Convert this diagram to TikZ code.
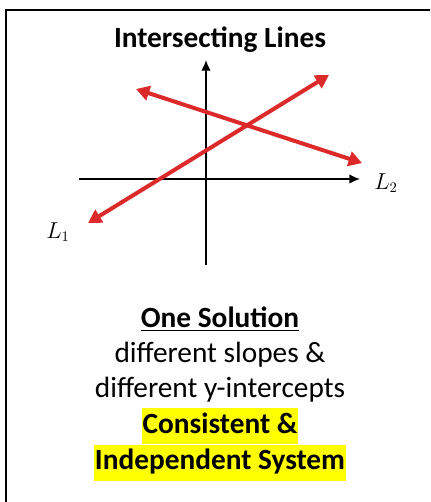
\documentclass[tikz,border=0pt]{standalone}
\usepackage{fontspec}
\setmainfont{Carlito}
\usepackage{tikz}
\usetikzlibrary{arrows.meta,positioning}
\definecolor{lineRed}{HTML}{DC2A2A}
\definecolor{markYellow}{HTML}{FFFF00}
\begin{document}
\begin{tikzpicture}[x=0.75pt,y=-0.75pt,
    font=\fontsize{22}{26}\selectfont,
    axis/.style={-{Latex[length=8pt,width=7pt]},line width=1pt},
    redline/.style={{Triangle[length=10pt,width=11pt]}-{Triangle[length=10pt,width=11pt]},lineRed,line width=3pt},
    axlbl/.style={inner sep=0pt,font=\fontsize{16}{18}\selectfont},
    hilite/.style={fill=markYellow,inner xsep=0.5pt,inner ysep=3.25pt,text height=15.5pt,text depth=5pt,
                   font=\fontsize{22}{26}\selectfont\bfseries}]
  \useasboundingbox (0,0) rectangle (430,502);
  \clip (0,0) rectangle (430,502);
  \draw[line width=1.6pt] (6,10) rectangle (470,540);
  \node[font=\fontsize{22}{26}\selectfont\bfseries] (title) at (220,40) {Intersecting Lines};
  % axes
  \coordinate (ybot) at (206,265); \coordinate (ytop) at (206,60);
  \coordinate (xleft) at (79,179); \coordinate (xright) at (360,179);
  \draw[axis] (ybot) -- (ytop);
  \draw[axis] (xleft) -- (xright);
  % the two lines
  \coordinate (l1a) at (88,223); \coordinate (l1b) at (329,75);
  \coordinate (l2a) at (136,89); \coordinate (l2b) at (362,163);
  \draw[redline] (l1a) -- (l1b);
  \draw[redline] (l2a) -- (l2b);
  \node[axlbl] (lone) at (58,232) {$L_1$};
  \node[axlbl] (ltwo) at (386,183) {$L_2$};
  % text below
  \node[font=\fontsize{22}{26}\selectfont\bfseries] (sol) at (220,319) {\underline{One Solution}};
  \node (slopes) at (220,355) {different slopes \&};
  \node (icpts) at (220,390) {different y-intercepts};
  \node[hilite] (cons) at (220,426) {Consistent \&};
  \node[hilite] (indep) at (220,462.5) {Independent System};
\end{tikzpicture}
\end{document}
